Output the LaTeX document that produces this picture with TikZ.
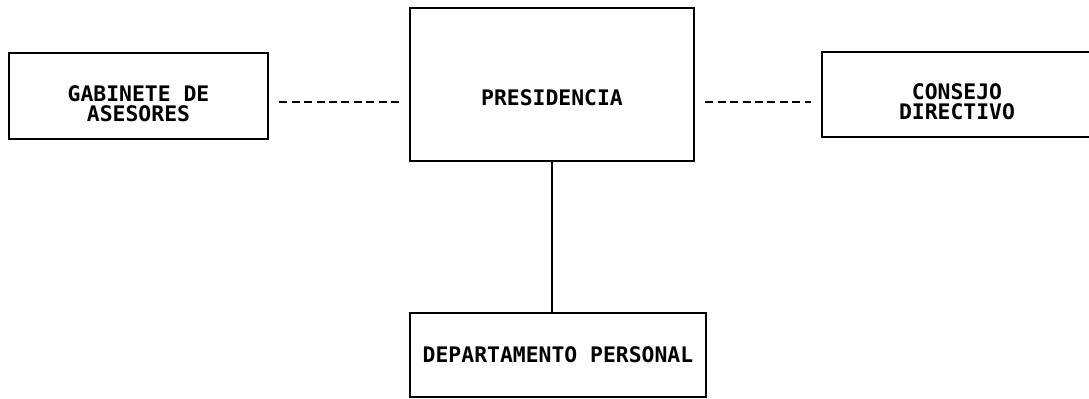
\documentclass[tikz,border=0pt]{standalone}
\usepackage{fontspec}
\setmonofont{DejaVu Sans Mono}
\usetikzlibrary{positioning}

\begin{document}
\begin{tikzpicture}[
			x=0.5pt, y=-0.5pt,
			box/.style = {draw, line width=1.3pt, inner sep=0pt, align=center,
				font=\ttfamily\bfseries\fontsize{10.7}{10}\selectfont},
			twoline/.style = {text height=25pt, text depth=0pt},
			dashline/.style = {draw, line width=1.2pt, dash pattern=on 4pt off 2.2pt,
				shorten <=5pt, shorten >=5pt},
			solidline/.style = {draw, line width=1.2pt},
			]
		
					\useasboundingbox (0,0) rectangle (1089,398);
					
					\node[box, twoline, minimum width=129.5pt, minimum height=43pt] (gab) at (138.5,96)
						{GABINETE DE\\ ASESORES};
					\node[box, minimum width=142pt, minimum height=76.5pt,
						text height=21pt, text depth=0pt] (pres) at (552,84.5) {PRESIDENCIA};
					\node[box, twoline, minimum width=135pt, minimum height=42.5pt] (cons) at (957,94.5)
						{CONSEJO\\ DIRECTIVO};
					\node[box, minimum width=148pt, minimum height=42pt] (dep) at (558,355)
						{DEPARTAMENTO PERSONAL};
					
					\coordinate (ly) at (0,102); % height of the dashed links
					\draw[dashline] (gab.east |- ly) -- (pres.west |- ly);
					\draw[dashline] (pres.east |- ly) -- (cons.west |- ly);
					\draw[solidline] (pres.south) -- (pres.south |- dep.north);
					
		\end{tikzpicture}
\end{document}
